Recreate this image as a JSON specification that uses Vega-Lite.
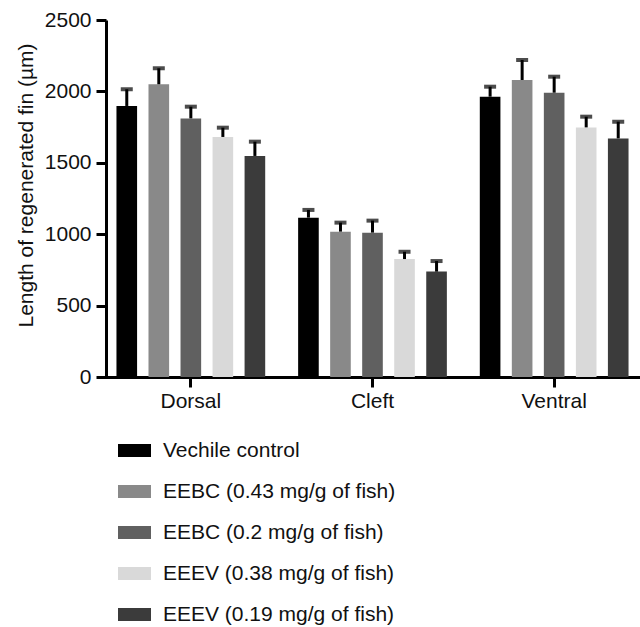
{
  "$schema": "https://vega.github.io/schema/vega-lite/v6.json",
  "autosize": {"type": "none"},
  "padding": {"left": 106, "top": 20, "right": 0, "bottom": 250},
  "width": 534,
  "height": 357,
  "config": {
    "font": "Liberation Sans",
    "view": {"stroke": null},
    "axis": {"domainColor": "#000", "tickColor": "#000", "labelColor": "#111", "titleColor": "#111", "grid": false}
  },
  "data": {
    "values": [
      {"region": "Dorsal", "group": "Vechile control", "mean": 1898, "upper": 2015},
      {"region": "Dorsal", "group": "EEBC (0.43 mg/g of fish)", "mean": 2050, "upper": 2162},
      {"region": "Dorsal", "group": "EEBC (0.2 mg/g of fish)", "mean": 1811, "upper": 1893},
      {"region": "Dorsal", "group": "EEEV (0.38 mg/g of fish)", "mean": 1681, "upper": 1746},
      {"region": "Dorsal", "group": "EEEV (0.19 mg/g of fish)", "mean": 1548, "upper": 1648},
      {"region": "Cleft", "group": "Vechile control", "mean": 1116, "upper": 1170},
      {"region": "Cleft", "group": "EEBC (0.43 mg/g of fish)", "mean": 1018, "upper": 1081},
      {"region": "Cleft", "group": "EEBC (0.2 mg/g of fish)", "mean": 1011, "upper": 1095},
      {"region": "Cleft", "group": "EEEV (0.38 mg/g of fish)", "mean": 826, "upper": 877},
      {"region": "Cleft", "group": "EEEV (0.19 mg/g of fish)", "mean": 738, "upper": 812},
      {"region": "Ventral", "group": "Vechile control", "mean": 1963, "upper": 2033},
      {"region": "Ventral", "group": "EEBC (0.43 mg/g of fish)", "mean": 2080, "upper": 2220},
      {"region": "Ventral", "group": "EEBC (0.2 mg/g of fish)", "mean": 1991, "upper": 2103},
      {"region": "Ventral", "group": "EEEV (0.38 mg/g of fish)", "mean": 1748, "upper": 1823},
      {"region": "Ventral", "group": "EEEV (0.19 mg/g of fish)", "mean": 1671, "upper": 1788}
    ]
  },
  "encoding": {
    "x": {
      "field": "region", "type": "nominal", "sort": ["Dorsal", "Cleft", "Ventral"],
      "scale": {"range": [-6, 539], "paddingInner": 0, "paddingOuter": 0},
      "axis": {"title": null, "labelAngle": 0, "labelFontSize": 21, "labelPadding": 3, "tickSize": 10, "tickWidth": 3, "domainWidth": 3}
    },
    "xOffset": {
      "field": "group", "type": "nominal",
      "sort": ["Vechile control", "EEBC (0.43 mg/g of fish)", "EEBC (0.2 mg/g of fish)", "EEEV (0.38 mg/g of fish)", "EEEV (0.19 mg/g of fish)"],
      "scale": {"paddingInner": 0.356, "paddingOuter": 0.514}
    }
  },
  "layer": [
    {
      "mark": {"type": "bar"},
      "encoding": {
        "y": {
          "field": "mean", "type": "quantitative",
          "scale": {"domain": [0, 2500], "nice": false},
          "axis": {
            "title": "Length of regenerated fin (µm)", "values": [0, 500, 1000, 1500, 2000, 2500], "format": "d",
            "labelFontSize": 21, "labelPadding": 5, "tickSize": 10, "tickWidth": 3, "domainWidth": 3,
            "titleFontSize": 21, "titleFontWeight": "normal", "titlePadding": 8, "titleY": 165
          }
        },
        "color": {
          "field": "group", "type": "nominal",
          "sort": ["Vechile control", "EEBC (0.43 mg/g of fish)", "EEBC (0.2 mg/g of fish)", "EEEV (0.38 mg/g of fish)", "EEEV (0.19 mg/g of fish)"],
          "scale": {
            "domain": ["Vechile control", "EEBC (0.43 mg/g of fish)", "EEBC (0.2 mg/g of fish)", "EEEV (0.38 mg/g of fish)", "EEEV (0.19 mg/g of fish)"],
            "range": ["#000000", "#898989", "#606060", "#d9d9d9", "#3b3b3b"]
          },
          "legend": {
            "title": null, "orient": "none", "legendX": 12, "legendY": 414, "direction": "vertical",
            "padding": 0, "symbolType": "M-1,-0.39H1V0.39H-1Z", "symbolSize": 1089, "symbolStrokeWidth": 0,
            "labelFontSize": 21, "labelOffset": 12, "labelColor": "#111", "rowPadding": 14, "labelLimit": 400
          }
        }
      }
    },
    {
      "mark": {"type": "rule", "strokeWidth": 3, "color": "#000"},
      "encoding": {
        "y": {"field": "mean", "type": "quantitative"},
        "y2": {"field": "upper"}
      }
    },
    {
      "mark": {"type": "tick", "thickness": 4, "size": 12, "color": "#000", "orient": "horizontal"},
      "encoding": {
        "y": {"field": "upper", "type": "quantitative"}
      }
    }
  ]
}
